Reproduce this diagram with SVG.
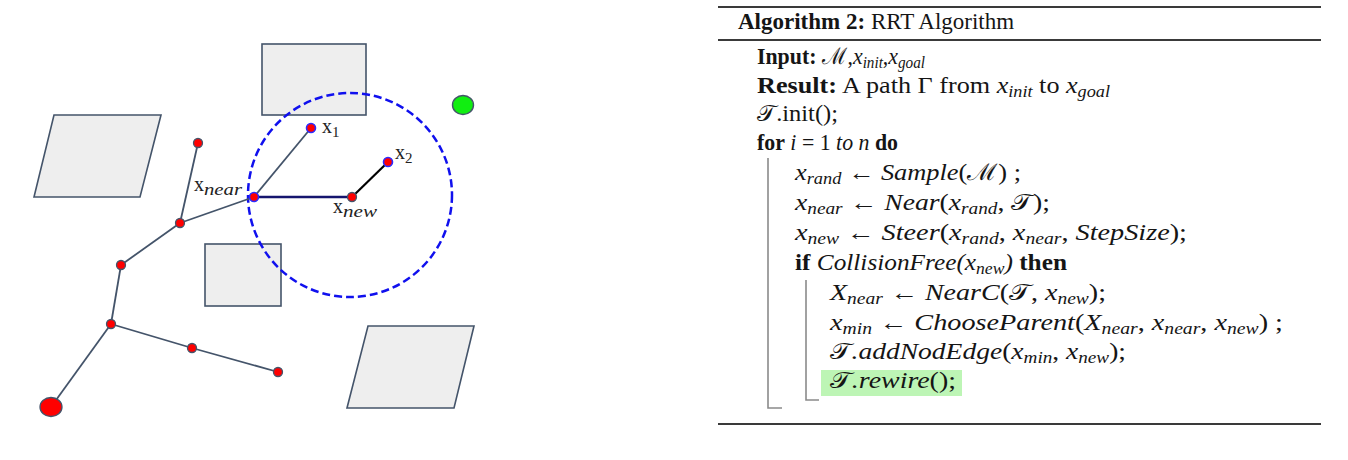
<svg xmlns="http://www.w3.org/2000/svg" width="1348" height="460" viewBox="0 0 1348 460">
<defs>
<style>
.obs{fill:#eeeeee;stroke:#44546a;stroke-width:1.6}
.edge{stroke:#44546a;stroke-width:1.8;fill:none}
.nd{fill:#ff0000;stroke:#44546a;stroke-width:1.3}
.nb{fill:#ff0000;stroke:#2b2bff;stroke-width:1.6}
.lbl{font-family:"Liberation Serif",serif;font-size:20px;fill:#222}
.lsub{font-family:"Liberation Serif",serif;font-size:17px;font-style:italic}
.lnum{font-family:"Liberation Serif",serif;font-size:15px}
.t{font-family:"Liberation Serif",serif;font-size:23px;fill:#151515}
.b{font-weight:bold}
.i{font-style:italic}
.s{font-size:16px;font-style:italic}
.rule{stroke:#3a3a3a;stroke-width:2}
.br{stroke:#8a8a8a;stroke-width:1.6;fill:none}
</style>
</defs>
<rect width="1348" height="460" fill="#ffffff"/>

<g id="obstacle-top"><rect class="obs" x="262" y="44" width="104" height="71"/></g>
<g id="obstacle-left"><polygon class="obs" points="54,115 161,115 140,197 34,197"/></g>
<g id="obstacle-mid"><rect class="obs" x="205" y="244" width="76" height="62"/></g>
<g id="obstacle-right"><polygon class="obs" points="368,326 474,326 454,408 347,408"/></g>

<g id="radius"><circle cx="350" cy="195" r="102" fill="none" stroke="#1010ee" stroke-width="2.5" stroke-dasharray="8,4"/></g>

<g id="connectors">
<line class="edge" x1="51" y1="407" x2="111" y2="324"/>
<line class="edge" x1="111" y1="324" x2="121" y2="265"/>
<line class="edge" x1="121" y1="265" x2="180" y2="223"/>
<line class="edge" x1="180" y1="223" x2="198" y2="143"/>
<line class="edge" x1="180" y1="223" x2="254" y2="197"/>
<line class="edge" x1="111" y1="324" x2="192" y2="348"/>
<line class="edge" x1="192" y1="348" x2="278" y2="372"/>
<line class="edge" x1="254" y1="197" x2="311" y2="128"/>
<line x1="254" y1="197" x2="352" y2="197" stroke="#15156e" stroke-width="2.6"/>
<line x1="352" y1="197" x2="388" y2="162" stroke="#000000" stroke-width="2.2"/>
</g>

<g id="root"><ellipse class="nd" cx="51" cy="407" rx="11" ry="9.5"/></g>
<g id="goal"><ellipse cx="463" cy="105" rx="10.5" ry="9.5" fill="#11ee11" stroke="#44546a" stroke-width="1.4"/></g>
<g id="n1"><circle class="nd" cx="111" cy="324" r="4.5"/></g>
<g id="n2"><circle class="nd" cx="121" cy="265" r="4.5"/></g>
<g id="n3"><circle class="nd" cx="180" cy="223" r="4.5"/></g>
<g id="n4"><circle class="nd" cx="198" cy="143" r="4.5"/></g>
<g id="n5"><circle class="nd" cx="192" cy="348" r="4.5"/></g>
<g id="n6"><circle class="nd" cx="278" cy="372" r="4.5"/></g>
<g id="xnear"><circle class="nb" cx="254" cy="197" r="4.5"/>
<text class="lbl" x="194" y="191">x<tspan class="lsub" dy="4" textLength="38" lengthAdjust="spacingAndGlyphs">near</tspan></text></g>
<g id="x1"><circle class="nb" cx="311" cy="128" r="4.5"/>
<text class="lbl" x="322" y="133">x<tspan class="lnum" dy="4">1</tspan></text></g>
<g id="x2"><circle class="nb" cx="388" cy="162" r="4.5"/>
<text class="lbl" x="395" y="159">x<tspan class="lnum" dy="4">2</tspan></text></g>
<g id="xnew"><circle class="nd" cx="352" cy="197" r="4.5"/>
<text class="lbl" x="333" y="213">x<tspan class="lsub" dy="4" textLength="34" lengthAdjust="spacingAndGlyphs">new</tspan></text></g>

<g id="algorithm">
<line class="rule" x1="718" y1="7" x2="1321" y2="7"/>
<line class="rule" x1="718" y1="40" x2="1321" y2="40"/>
<line class="rule" x1="718" y1="424" x2="1321" y2="424"/>
<rect x="821" y="370" width="141" height="26" fill="#bdf5b5"/>
<path class="br" d="M768,158 V408 H782"/>
<path class="br" d="M806,280 V400 H819"/>
<text class="t" x="738" y="29"><tspan class="b">Algorithm 2:</tspan> RRT Algorithm</text>
<text class="t" x="757" y="64" textLength="168" lengthAdjust="spacingAndGlyphs"><tspan class="b">Input:</tspan> ℳ,<tspan class="i">x</tspan><tspan class="s" dy="4">init</tspan><tspan dy="-4">,</tspan><tspan class="i">x</tspan><tspan class="s" dy="4">goal</tspan></text>
<text class="t" x="757" y="93" textLength="353" lengthAdjust="spacingAndGlyphs"><tspan class="b">Result:</tspan> A path Γ from <tspan class="i">x</tspan><tspan class="s" dy="4">init</tspan><tspan dy="-4"> to </tspan><tspan class="i">x</tspan><tspan class="s" dy="4">goal</tspan></text>
<text class="t" x="757" y="121" textLength="81" lengthAdjust="spacingAndGlyphs">𝒯.init();</text>
<text class="t" x="757" y="150" textLength="141" lengthAdjust="spacingAndGlyphs"><tspan class="b">for</tspan> <tspan class="i">i</tspan> = 1 <tspan class="i">to n</tspan> <tspan class="b">do</tspan></text>
<text class="t i" x="795" y="180" textLength="226" lengthAdjust="spacingAndGlyphs">x<tspan class="s" dy="4">rand</tspan><tspan dy="-4" font-style="normal"> ← </tspan>Sample<tspan font-style="normal">(ℳ) ;</tspan></text>
<text class="t i" x="795" y="210" textLength="255" lengthAdjust="spacingAndGlyphs">x<tspan class="s" dy="4">near</tspan><tspan dy="-4" font-style="normal"> ← </tspan>Near<tspan font-style="normal">(</tspan>x<tspan class="s" dy="4">rand</tspan><tspan dy="-4" font-style="normal">, 𝒯);</tspan></text>
<text class="t i" x="795" y="240" textLength="392" lengthAdjust="spacingAndGlyphs">x<tspan class="s" dy="4">new</tspan><tspan dy="-4" font-style="normal"> ← </tspan>Steer<tspan font-style="normal">(</tspan>x<tspan class="s" dy="4">rand</tspan><tspan dy="-4" font-style="normal">, </tspan>x<tspan class="s" dy="4">near</tspan><tspan dy="-4" font-style="normal">, </tspan>StepSize<tspan font-style="normal">);</tspan></text>
<text class="t" x="795" y="270" textLength="272" lengthAdjust="spacingAndGlyphs"><tspan class="b">if</tspan> <tspan class="i">CollisionFree(x</tspan><tspan class="s" dy="4">new</tspan><tspan class="i" dy="-4">)</tspan> <tspan class="b">then</tspan></text>
<text class="t i" x="830" y="300" textLength="276" lengthAdjust="spacingAndGlyphs">X<tspan class="s" dy="4">near</tspan><tspan dy="-4" font-style="normal"> ← </tspan>NearC<tspan font-style="normal">(𝒯, </tspan>x<tspan class="s" dy="4">new</tspan><tspan dy="-4" font-style="normal">);</tspan></text>
<text class="t i" x="830" y="330" textLength="453" lengthAdjust="spacingAndGlyphs">x<tspan class="s" dy="4">min</tspan><tspan dy="-4" font-style="normal"> ← </tspan>ChooseParent<tspan font-style="normal">(</tspan>X<tspan class="s" dy="4">near</tspan><tspan dy="-4" font-style="normal">, </tspan>x<tspan class="s" dy="4">near</tspan><tspan dy="-4" font-style="normal">, </tspan>x<tspan class="s" dy="4">new</tspan><tspan dy="-4" font-style="normal">) ;</tspan></text>
<text class="t i" x="830" y="359" textLength="296" lengthAdjust="spacingAndGlyphs"><tspan font-style="normal">𝒯</tspan>.addNodEdge<tspan font-style="normal">(</tspan>x<tspan class="s" dy="4">min</tspan><tspan dy="-4" font-style="normal">, </tspan>x<tspan class="s" dy="4">new</tspan><tspan dy="-4" font-style="normal">);</tspan></text>
<text class="t i" x="830" y="388" textLength="126" lengthAdjust="spacingAndGlyphs"><tspan font-style="normal">𝒯</tspan>.rewire<tspan font-style="normal">();</tspan></text>
</g>
</svg>
